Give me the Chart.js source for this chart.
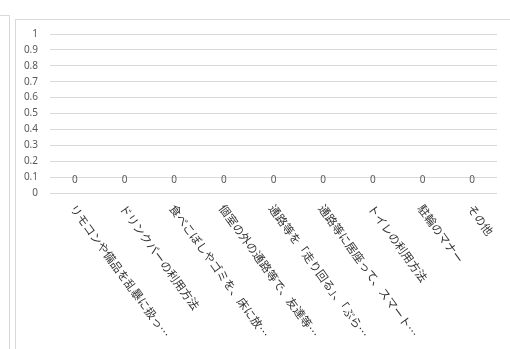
<!DOCTYPE html>
<html>
<head>
<meta charset="utf-8">
<script src="https://cdn.jsdelivr.net/npm/chart.js@4"></script>
<style>
  body { margin: 0; background: #fff; overflow: hidden; }
  #side { position: absolute; left: -2px; top: 15px; width: 10px; height: 400px; border: 1px solid #d9d9d9; }
  #box { position: absolute; left: 15px; top: 19px; width: 520px; height: 400px; border: 1px solid #d9d9d9; }
  #wrap { position: absolute; left: 0; top: -4px; width: 494px; height: 334px; }
</style>
</head>
<body>
<div id="side"></div>
<div id="box"><div id="wrap"><canvas id="chart"></canvas></div></div>
<script>
// カテゴリ
const categories = [
  'リモコンや備品を乱暴に扱っ…',
  'ドリンクバーの利用方法',
  '食べこぼしやゴミを、床に放…',
  '個室の外の通路等で、友達等…',
  '通路等を「走り回る」、「ぶら…',
  '通路等に居座って、スマート…',
  'トイレの利用方法',
  '駐輪のマナー',
  'その他'
];

// 値（すべて 0）
const counts = [0, 0, 0, 0, 0, 0, 0, 0, 0];

const yMin = 0;
const yMax = 1;
const yStep = 0.1;

const latin = "'Noto Sans', 'Noto Sans CJK JP', sans-serif";
const cjk = "'Noto Sans CJK JP', 'Noto Sans', sans-serif";

// データラベルと斜めのカテゴリ名
const labelPlugin = {
  id: 'labels',
  afterDatasetsDraw(chart) {
    const ctx = chart.ctx;
    const x = chart.scales.x;
    const y = chart.scales.y;
    ctx.save();
    counts.forEach((v, i) => {
      const px = x.getPixelForValue(i);
      const py = y.getPixelForValue(v);
      ctx.fillStyle = '#595959';
      ctx.font = '10px ' + latin;
      ctx.textAlign = 'center';
      ctx.textBaseline = 'middle';
      ctx.fillText(String(v), px, py - 13);
    });
    categories.forEach((c, i) => {
      const px = x.getPixelForValue(i);
      const py = y.getPixelForValue(0) + 13;
      ctx.save();
      ctx.translate(px - 2, py);
      ctx.rotate(54 * Math.PI / 180);
      ctx.fillStyle = '#333333';
      ctx.font = '11.5px ' + cjk;
      ctx.textAlign = 'left';
      ctx.textBaseline = 'middle';
      ctx.fillText(c, 0, 0);
      ctx.restore();
    });
    ctx.restore();
  }
};

new Chart(document.getElementById('chart'), {
  type: 'bar',
  data: {
    labels: categories,
    datasets: [{
      data: counts,
      backgroundColor: '#4472c4'
    }]
  },
  options: {
    responsive: true,
    maintainAspectRatio: false,
    animation: false,
    layout: {
      padding: { left: 0, right: 13, top: 9, bottom: 0 }
    },
    plugins: {
      legend: { display: false },
      tooltip: { enabled: false }
    },
    scales: {
      x: {
        grid: { display: false, drawTicks: false },
        border: { display: false },
        ticks: { display: false },
        afterFit(scale) { scale.height = 157; }
      },
      y: {
        min: yMin,
        max: yMax,
        grid: { color: '#d9d9d9', drawTicks: false },
        border: { display: false },
        ticks: {
          stepSize: yStep,
          padding: 12,
          color: '#595959',
          font: { size: 10, family: latin },
          callback: v => Math.round(v * 10) / 10
        },
        afterFit(scale) { scale.width = 34; }
      }
    }
  },
  plugins: [labelPlugin]
});
</script>
</body>
</html>
